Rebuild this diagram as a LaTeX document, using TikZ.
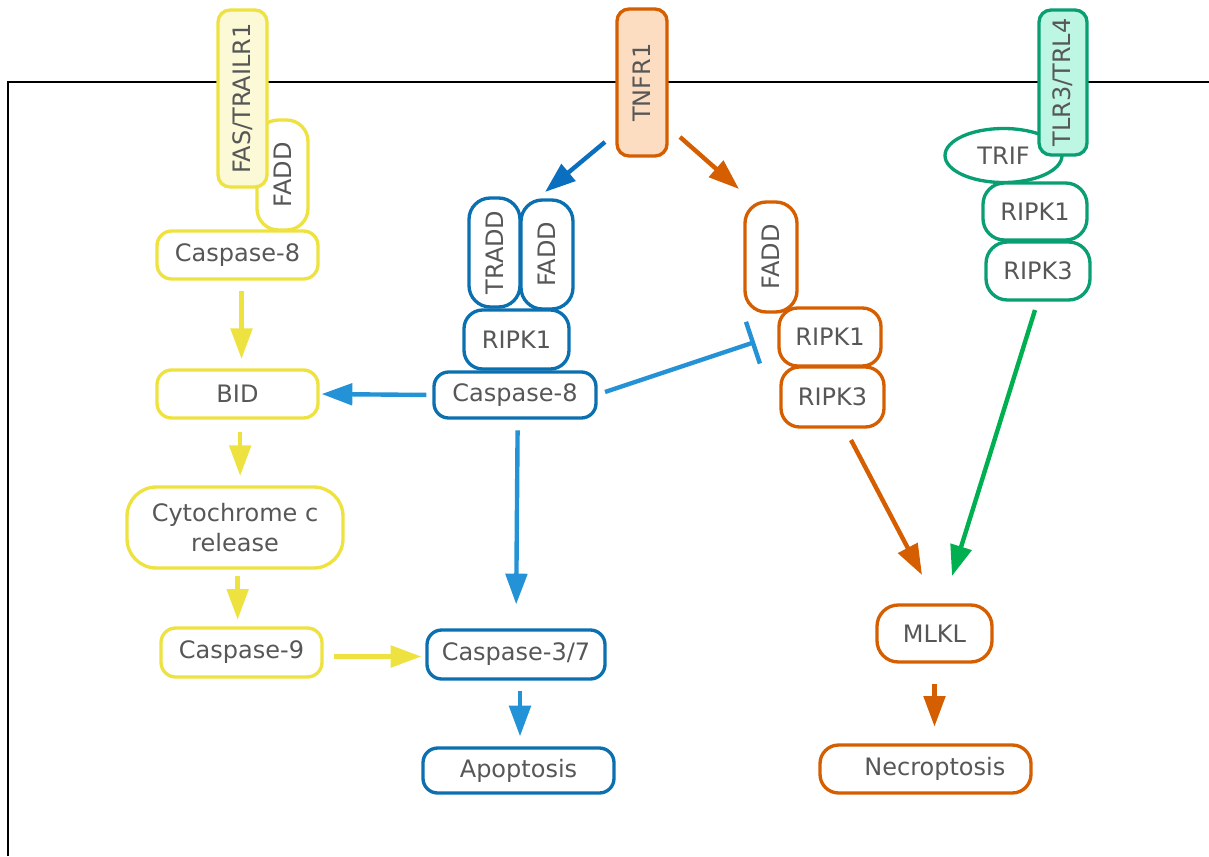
\documentclass[tikz,border=0pt]{standalone}
\usepackage{fontspec}
\setmainfont{DejaVu Sans}
\usetikzlibrary{arrows.meta,shapes.geometric}

\definecolor{txt}{HTML}{575757}
\definecolor{yel}{HTML}{EEE240}
\definecolor{yelfill}{HTML}{FBF9D6}
\definecolor{blu}{HTML}{0A70B0}
\definecolor{bluarrow}{HTML}{2392D6}
\definecolor{bludark}{HTML}{0B6FC0}
\definecolor{ora}{HTML}{D55E00}
\definecolor{orafill}{HTML}{FDDDC2}
\definecolor{grn}{HTML}{0A9E73}
\definecolor{grnfill}{HTML}{BDF7E3}
\definecolor{grnarrow}{HTML}{00B050}

\tikzset{
  box/.style={draw, fill=white, line width=2.5pt, rounded corners=11pt,
    text=txt, font=\fontsize{18}{22}\selectfont, inner sep=0pt, align=center},
  sz/.style 2 args={minimum width={#1*0.75pt}, minimum height={#2*0.75pt}},
  vbox/.style={box, rotate=90, rounded corners=16pt},
  ybox/.style={box, draw=yel},
  bbox/.style={box, draw=blu},
  obox/.style={box, draw=ora},
  gbox/.style={box, draw=grn},
  flow/.style={line width=3.3pt, -{Triangle[length=23pt, width=16pt]}},
}

\begin{document}
\begin{tikzpicture}[x=0.75pt, y=-0.75pt]
\useasboundingbox (0,0) rectangle (1209,856);

% membrane
\draw[line width=1pt] (8,856) -- (8,82) -- (1209,82);

% ---- death receptor branch (yellow)
\node[vbox, draw=yel, sz={110}{51}] (yfadd) at (282.5,175) {FADD};
\node[vbox, draw=yel, fill=yelfill, rounded corners=9pt, sz={177}{49}] (fas) at (242.5,98.5) {FAS/TRAILR1};
\node[ybox, sz={161}{48}] (ycasp8) at (237.5,255) {Caspase-8};
\node[ybox, sz={161}{48}] (bid) at (237.5,394) {BID};
\node[ybox, rounded corners=22pt, sz={216}{81}] (cyto) at (235,527.5) {Cytochrome c\\release};
\node[ybox, sz={161}{49}] (casp9) at (241.5,652.5) {Caspase-9};

% ---- TNFR1 branch (blue / orange)
\node[vbox, draw=ora, fill=orafill, rounded corners=9pt, sz={147}{50}] (tnfr) at (642,82.5) {TNFR1};
\node[vbox, draw=blu, sz={109}{51}] (tradd) at (494.5,252.5) {TRADD};
\node[vbox, draw=blu, sz={109}{52}] (bfadd) at (547,254.5) {FADD};
\node[bbox, rounded corners=14pt, sz={105}{59}] (bripk1) at (516.5,339.5) {RIPK1};
\node[bbox, sz={162}{46}] (bcasp8) at (515,395) {Caspase-8};
\node[bbox, sz={178}{49}] (casp37) at (516,654.5) {Caspase-3/7};
\node[bbox, sz={191}{45}] (apop) at (518.5,770.5) {Apoptosis};

\node[vbox, draw=ora, sz={110}{52}] (ofadd) at (771,257) {FADD};
\node[obox, rounded corners=14pt, sz={102}{58}] (oripk1) at (830,337) {RIPK1};
\node[obox, rounded corners=14pt, sz={103}{60}] (oripk3) at (832.5,397) {RIPK3};
\node[obox, rounded corners=16pt, sz={115}{57}] (mlkl) at (934.5,633.5) {MLKL};
\node[obox, rounded corners=14pt, sz={211}{48}] (necro) at (925.5,769) {\hspace*{14pt}Necroptosis};

% ---- TLR branch (green)
\node[ellipse, draw=grn, fill=white, line width=2.5pt, inner sep=0pt, text=txt,
  font=\fontsize{18}{22}\selectfont, sz={117}{54}] (trif) at (1003.5,155.5) {TRIF};
\node[vbox, draw=grn, fill=grnfill, rounded corners=9pt, sz={145}{48}] (tlr) at (1063,82.5) {TLR3/TRL4};
\node[gbox, rounded corners=16pt, sz={104}{57}] (gripk1) at (1035,211.5) {RIPK1};
\node[gbox, rounded corners=16pt, sz={104}{58}] (gripk3) at (1038,271) {RIPK3};

% ---- free connector ends
\coordinate (tnfrL) at (605,142);
\coordinate (complexB) at (545,192);
\coordinate (tnfrR) at (680,137);
\coordinate (complexO) at (739,189);
\coordinate (inhStart) at (605,392);
\coordinate (inhEnd) at (755,342);
\coordinate (ripk3O) at (851,440);
\coordinate (mlklL) at (922,575);
\coordinate (ripk3G) at (1035,310);
\coordinate (mlklR) at (952,576);

% ---- connectors
\begin{scope}[color=yel]
  \draw[flow, shorten <=8pt, shorten >=7pt] ([xshift=3pt]ycasp8.south) -- ([xshift=3pt]bid.north);
  \draw[flow, shorten <=9pt, shorten >=7pt] ([xshift=2pt]bid.south) -- ([xshift=2pt]bid.south |- cyto.north);
  \draw[flow, shorten <=5pt, shorten >=5pt] ([xshift=2pt]cyto.south) -- ([xshift=2pt]cyto.south |- casp9.north);
  \draw[flow, shorten <=8pt, shorten >=3pt] ([yshift=-3pt]casp9.east) -- ([yshift=-3pt]casp9.east -| casp37.west);
\end{scope}

\draw[flow, bludark] (tnfrL) -- (complexB);
\draw[flow, ora] (tnfrR) -- (complexO);

\begin{scope}[color=bluarrow]
  \draw[flow, shorten <=4.5pt, shorten >=1.5pt] (bcasp8.west) -- (bid.east);
  \draw[flow, shorten <=8pt, shorten >=18pt] ([xshift=2pt]bcasp8.south) -- (casp37.north);
  \draw[flow, shorten <=8pt, shorten >=7.5pt] ([xshift=3pt]casp37.south) -- ([xshift=3pt]casp37.south |- apop.north);
  \draw[line width=3.3pt, -{Bar[width=33pt, line width=3.3pt]}] (inhStart) -- (inhEnd);
\end{scope}

\draw[flow, ora] (ripk3O) -- (mlklL);
\draw[flow, grnarrow] (ripk3G) -- (mlklR);
\draw[flow, ora, shorten <=15pt, shorten >=12.5pt] (mlkl.south) -- (mlkl.south |- necro.north);

\end{tikzpicture}
\end{document}
